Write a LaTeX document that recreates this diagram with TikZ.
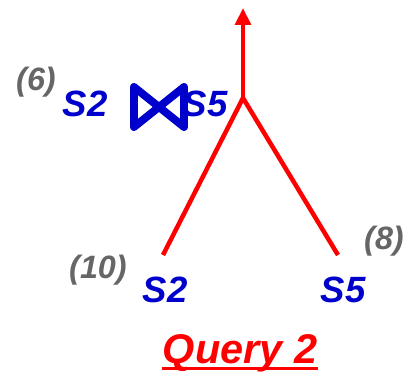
\documentclass[tikz,border=0pt]{standalone}
\usepackage{fontspec}
\setmainfont{Liberation Sans}
\usetikzlibrary{arrows.meta}
\definecolor{cRel}  {RGB}{0,0,204}
\definecolor{cCost} {RGB}{102,102,102}
\definecolor{cTree} {RGB}{255,0,0}

\begin{document}
\begin{tikzpicture}[x=0.025cm, y=-0.025cm]

%% ── shared styles ─────────────────────────────────────────────────────────
\tikzset{
  rel/.style  ={font=\fontsize{26}{30}\selectfont\bfseries\itshape, text=cRel, inner sep=0pt},
  cost/.style ={font=\fontsize{23}{27}\selectfont\bfseries\itshape, text=cCost, inner sep=0pt},
  treeline/.style={draw=cTree, line width=3.2pt},
  uparr/.style={treeline, -{Triangle[width=11pt, length=12pt]}},
  bowtie/.style={draw=cRel, line width=5.6pt, line join=round},
}

%% ── page frame ────────────────────────────────────────────────────────────
\useasboundingbox (0,0) rectangle (404,378);

%% ── join label (top) ──────────────────────────────────────────────────────
\node[cost] (C6)  at ( 36, 82) {(6)};
\node[rel]  (J2)  at ( 85,104) {S2};
\draw[bowtie] (134,87) -- (184,127) -- (184,87) -- (134,127) -- cycle;
\node[rel]  (J5)  at (205,104) {S5};

%% ── plan tree ─────────────────────────────────────────────────────────────
\coordinate (top)    at (243,  8);
\coordinate (fork)   at (243, 98);
\coordinate (leftE)  at (163,255);
\coordinate (rightE) at (338,255);

\draw[uparr]    (fork) -- (top);
\draw[treeline] (fork) -- (leftE);
\draw[treeline] (fork) -- (rightE);

%% ── leaves ────────────────────────────────────────────────────────────────
\node[cost] (C10) at ( 98,270) {(10)};
\node[rel]  (L2)  at (165,290) {S2};
\node[rel]  (L5)  at (343,290) {S5};
\node[cost] (C8)  at (384,241) {(8)};

%% ── caption ───────────────────────────────────────────────────────────────
\node[font=\fontsize{29.5}{34}\selectfont\bfseries\itshape, text=cTree, inner sep=0pt]
  (Q2) at (240,353) {Query 2};
\draw[cTree, line width=2.2pt]
  ([yshift=-4pt]Q2.base west) -- ([yshift=-4pt]Q2.base east);

\end{tikzpicture}
\end{document}
